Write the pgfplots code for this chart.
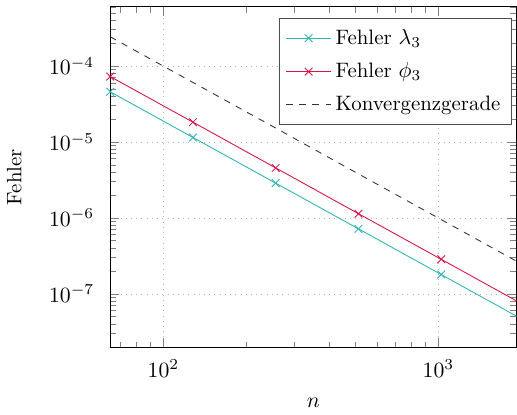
\documentclass[border=0pt]{standalone}
\usepackage{pgfplots}
\pgfplotsset{compat=1.18}
\definecolor{cteal}{RGB}{45,180,180}
\definecolor{ccrim}{RGB}{214,18,70}
\begin{document}
\fontsize{9.6pt}{11.5pt}\selectfont
\begin{tikzpicture}
\begin{loglogaxis}[
  scale only axis,
  width=187pt, height=157pt,
  xmin=64, xmax=1925,
  ymin=1.96e-8, ymax=6.1e-4,
  xlabel={$n$}, ylabel={Fehler},
  xticklabel style={yshift=-2pt},
  yticklabel style={xshift=-4pt},
  xlabel style={yshift=-3pt},
  ylabel style={yshift=6pt},
  grid=major,
  major grid style={dotted, gray!60},
  tick style={gray, thin},
  axis line style={black},
  legend image code/.code={\draw[mark repeat=2,mark phase=2] plot coordinates {(0cm,0cm)(0.36cm,0cm)(0.72cm,0cm)};},
  legend style={draw=black!70, font=\fontsize{9.6pt}{11.5pt}\selectfont, legend cell align=left, at={(0.988,0.967)}, anchor=north east, row sep=3pt, inner ysep=3pt},
]
\addplot[cteal, mark=x, mark size=2.5pt] coordinates {
(64,4.6e-5) (128,1.15e-5) (256,2.88e-6) (512,7.2e-7) (1024,1.8e-7) (2048,4.5e-8)};
\addlegendentry{Fehler $\lambda_3$}
\addplot[ccrim, mark=x, mark size=2.5pt] coordinates {
(64,7.3e-5) (128,1.83e-5) (256,4.57e-6) (512,1.14e-6) (1024,2.86e-7) (2048,7.15e-8)};
\addlegendentry{Fehler $\phi_3$}
\addplot[black!80, dashed] coordinates {
(64,2.44e-4) (128,6.1e-5) (256,1.53e-5) (512,3.81e-6) (1024,9.54e-7) (2048,2.38e-7)};
\addlegendentry{Konvergenzgerade}
\end{loglogaxis}
\path (current axis.north) ++(0pt,3pt) coordinate (topmargin);
\end{tikzpicture}
\end{document}
